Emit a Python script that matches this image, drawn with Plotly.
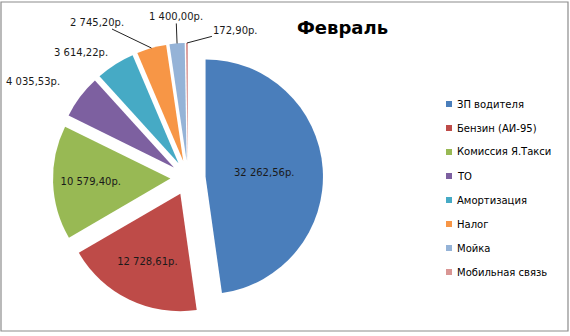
import math
import plotly.graph_objects as go

categories = ["ЗП водителя", "Бензин (АИ-95)", "Комиссия Я.Такси", "ТО",
              "Амортизация", "Налог", "Мойка", "Мобильная связь"]
values = [32262.56, 12728.61, 10579.40, 4035.53, 3614.22, 2745.20, 1400.00, 172.90]
colors = ["#4A7EBB", "#BE4B48", "#98B954", "#7D60A0", "#46AAC5", "#F79646", "#95B3D7", "#D99694"]
title_text = "Февраль"

# label offsets (pixels) for the small slices, labelled outside with leader lines
outside_offsets = {3: (-47, -15, False), 4: (-34, -12, False), 5: (-54, -26, True),
                   6: (-1, -27, True), 7: (49, -13, True)}


def fmt(v):
    s = f"{v:,.2f}"
    s = s.replace(",", " ").replace(".", ",")
    return s + "р."


texts = [fmt(v) for v in values]
inside_text = [t if i not in outside_offsets else "" for i, t in enumerate(texts)]

W, H = 570, 336
PULL = 0.15
cx_px, cy_px, size_px = 188, 178, 270
dom_x = [(cx_px - size_px / 2) / W, (cx_px + size_px / 2) / W]
dom_y = [1 - (cy_px + size_px / 2) / H, 1 - (cy_px - size_px / 2) / H]

fig = go.Figure()
fig.add_trace(go.Pie(
    labels=categories, values=values, text=inside_text, textinfo="text",
    textposition="inside", sort=False, direction="clockwise", rotation=0,
    pull=[PULL] * len(values),
    marker=dict(colors=colors, line=dict(width=0)),
    textfont=dict(family="DejaVu Sans", size=10, color="#1a1a1a"),
    insidetextorientation="horizontal",
    domain=dict(x=dom_x, y=dom_y),
    showlegend=False, automargin=False,
))

annotations = [dict(text=f"<b>{title_text}</b>", x=342 / W, y=1 - 27 / H, xref="paper", yref="paper",
                    showarrow=False, font=dict(family="DejaVu Sans", size=18, color="#000"),
                    xanchor="center", yanchor="middle")]

# outside labels anchored at the outer edge of each slice's mid-angle
total = sum(values)
r_out = size_px / (2 * (1 + PULL)) * (1 + PULL)
cum = 0.0
for i, v in enumerate(values):
    mid = (cum + v / 2) / total
    cum += v
    if i not in outside_offsets:
        continue
    ang = 2 * math.pi * mid
    px = cx_px + r_out * math.sin(ang)
    py = cy_px - r_out * math.cos(ang)
    ax, ay, line = outside_offsets[i]
    annotations.append(dict(text=texts[i], x=px / W, y=1 - py / H, xref="paper", yref="paper",
                            showarrow=True, arrowhead=0, arrowwidth=1,
                            arrowcolor="#222" if line else "rgba(0,0,0,0)",
                            ax=ax, ay=ay, font=dict(family="DejaVu Sans", size=10, color="#1a1a1a")))

shapes = [dict(type="rect", xref="paper", yref="paper", x0=1 / W, x1=568 / W, y0=1 - 331 / H, y1=1 - 2 / H,
               line=dict(color="#8c8c8c", width=1.2), fillcolor="rgba(0,0,0,0)")]
y0, dy = 104, 24
for i, (c, col) in enumerate(zip(categories, colors)):
    yc = y0 + i * dy
    shapes.append(dict(type="rect", xref="paper", yref="paper",
                       x0=446 / W, x1=452 / W, y0=1 - (yc + 3) / H, y1=1 - (yc - 3) / H,
                       fillcolor=col, line=dict(width=0)))
    annotations.append(dict(text=c, x=455 / W, y=1 - yc / H, xref="paper", yref="paper",
                            showarrow=False, xanchor="left", yanchor="middle",
                            font=dict(family="DejaVu Sans", size=10, color="#000")))

fig.update_layout(width=W, height=H, margin=dict(l=0, r=0, t=0, b=0),
                  paper_bgcolor="white", plot_bgcolor="white",
                  annotations=annotations, shapes=shapes)
fig.write_html("out.html")
